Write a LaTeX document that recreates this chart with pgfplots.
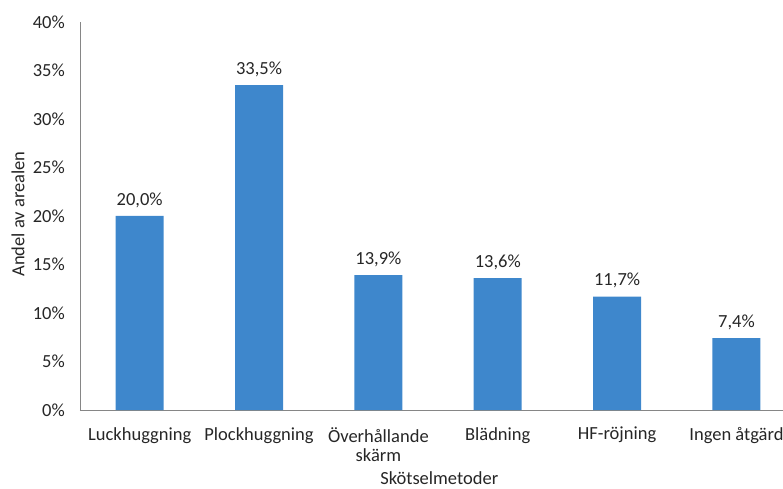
\documentclass[border=0pt]{standalone}
\usepackage{pgfplots}
\pgfplotsset{compat=1.18}
\usepackage{fontspec}
\setmainfont{Carlito}
\definecolor{barblue}{RGB}{62,135,204}
\definecolor{axgray}{RGB}{134,134,134}
\definecolor{txt}{RGB}{38,38,38}
\begin{document}
\fontsize{18.5}{22}\selectfont
\begin{tikzpicture}
\begin{axis}[
  scale only axis,
  width=703pt, height=388pt,
  xmin=-0.5, xmax=5.39,
  ymin=0, ymax=40,
  ytick={0,5,...,40},
  yticklabel={\pgfmathprintnumber{\tick}\%},
  xtick=data,
  xticklabels={Luckhuggning,Plockhuggning,{Överhållande\\skärm},Blädning,HF-röjning,Ingen åtgärd},
  x tick label style={align=center, inner sep=0pt, anchor=north, yshift=-17pt, text=txt, font=\fontsize{18.5}{19.5}\selectfont},
  y tick label style={inner sep=0pt, anchor=east, xshift=-15pt, text=txt},
  /pgf/number format/assume math mode=true,
  major tick length=0pt,
  axis x line*=bottom,
  axis y line*=left,
  axis line style={axgray, line width=0.9pt},
  ybar,
  bar width=48pt,
  xlabel={Skötselmetoder},
  ylabel={Andel av arealen},
  xlabel style={at={(axis description cs:0.511,0)}, anchor=north, inner sep=0pt, yshift=-61pt, text=txt},
  ylabel style={at={(axis description cs:-0.0882,0.505)}, anchor=center, rotate=0, inner sep=0pt, text=txt},
  nodes near coords={\pgfmathprintnumber[fixed,fixed zerofill,precision=1,use comma]{\pgfplotspointmeta}\%},
  nodes near coords style={text=txt, inner sep=0pt, anchor=south, yshift=8pt},
  clip=false,
]
\addplot[fill=barblue, draw=none] coordinates {(0,20.0) (1,33.5) (2,13.9) (3,13.6) (4,11.7) (5,7.4)};
\end{axis}
\pgfresetboundingbox
\path[use as bounding box] (-80pt,-79pt) rectangle (703pt,410pt);
\end{tikzpicture}
\end{document}
